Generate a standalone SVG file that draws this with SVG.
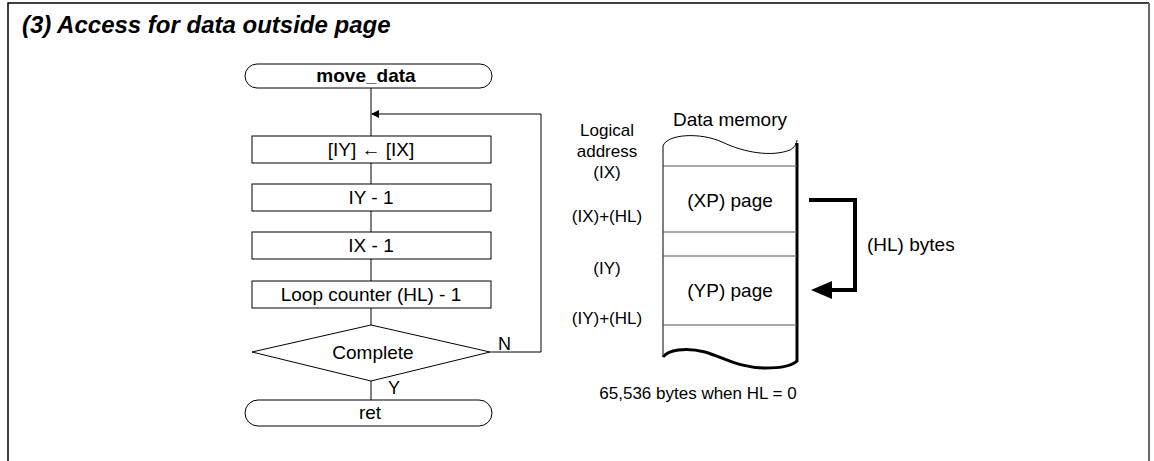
<svg xmlns="http://www.w3.org/2000/svg" width="1154" height="461" viewBox="0 0 1154 461">
<defs>
<style>
.t{font-family:"Liberation Sans",Arial,sans-serif;font-size:19px;fill:#000}
.s{font-size:17px}
.c{text-anchor:middle}
.b{fill:#fff;stroke:#000;stroke-width:1}
.ln{fill:none;stroke:#000;stroke-width:1}
.thin{fill:none;stroke:#555;stroke-width:1}
</style>
<marker id="ah" markerWidth="8" markerHeight="8" refX="7" refY="4" orient="auto" markerUnits="userSpaceOnUse">
<path d="M0,0 L8,4 L0,8 Z" fill="#000"/>
</marker>
</defs>
<rect width="1154" height="461" fill="#fff"/>
<g id="frame">
<path d="M8,461 V3 H1149" fill="none" stroke="#000" stroke-width="1.5"/>
<path d="M1149,3 V461" fill="none" stroke="#666" stroke-width="2"/>
</g>
<text x="22" y="33" class="t" style="font-size:24px;font-weight:bold;font-style:italic">(3) Access for data outside page</text>

<g id="connectors">
<path class="ln" d="M371,88 V136 M371,163 V184 M371,211 V232 M371,259 V281 M371,308 V325 M371,381 V400"/>
<path class="ln" d="M490,352 H541 V114 H372" marker-end="url(#ah)"/>
</g>

<g id="start">
<rect class="b" x="245" y="64" width="247" height="24" rx="12"/>
<text x="366" y="82" class="t c" style="font-weight:bold">move_data</text>
</g>
<g id="step1">
<rect class="b" x="252" y="136" width="239" height="27"/>
<text x="371" y="156" class="t c">[IY] ← [IX]</text>
</g>
<g id="step2">
<rect class="b" x="252" y="184" width="239" height="27"/>
<text x="371" y="204" class="t c">IY - 1</text>
</g>
<g id="step3">
<rect class="b" x="252" y="232" width="239" height="27"/>
<text x="371" y="252" class="t c">IX - 1</text>
</g>
<g id="step4">
<rect class="b" x="252" y="281" width="239" height="27"/>
<text x="371" y="301" class="t c">Loop counter (HL) - 1</text>
</g>
<g id="decision">
<polygon class="b" points="371,325 490,352 371,381 252,352"/>
<text x="373" y="359" class="t c">Complete</text>
<text x="498" y="350" class="t" style="font-size:18px">N</text>
<text x="388" y="394" class="t" style="font-size:18px">Y</text>
</g>
<g id="end">
<rect class="b" x="245" y="400" width="247" height="26" rx="13"/>
<text x="370" y="419" class="t c">ret</text>
</g>

<g id="memory">
<text x="730" y="126" class="t c">Data memory</text>
<path class="ln" d="M663,146 C667,134 700,132 722,142 C745,153 772,157 790,150 C794,148 797,143 797,140"/>
<path class="ln" d="M663,146 V356"/>
<path d="M797,143 V362" fill="none" stroke="#000" stroke-width="3"/>
<path class="thin" d="M663,166 H797 M663,232 H797 M663,256 H797 M663,325 H797"/>
<path d="M663,357 C668,350 685,347 705,352 C725,358 740,368 765,368 C782,368 793,365 797,361" fill="none" stroke="#000" stroke-width="3"/>
<text x="730" y="207" class="t c">(XP) page</text>
<text x="730" y="297" class="t c">(YP) page</text>
</g>

<g id="labels">
<text x="607" y="136" class="t s c">Logical</text>
<text x="607" y="157" class="t s c">address</text>
<text x="607" y="178" class="t s c">(IX)</text>
<text x="607" y="222" class="t s c">(IX)+(HL)</text>
<text x="607" y="274" class="t s c">(IY)</text>
<text x="607" y="324" class="t s c">(IY)+(HL)</text>
<text x="698" y="399" class="t s c">65,536 bytes when HL = 0</text>
</g>

<g id="hl-arrow">
<path d="M809,200 H855 V290 H830" fill="none" stroke="#000" stroke-width="4"/>
<path d="M811,290 L832,281 L832,299 Z" fill="#000"/>
<text x="867" y="251" class="t">(HL) bytes</text>
</g>
</svg>
